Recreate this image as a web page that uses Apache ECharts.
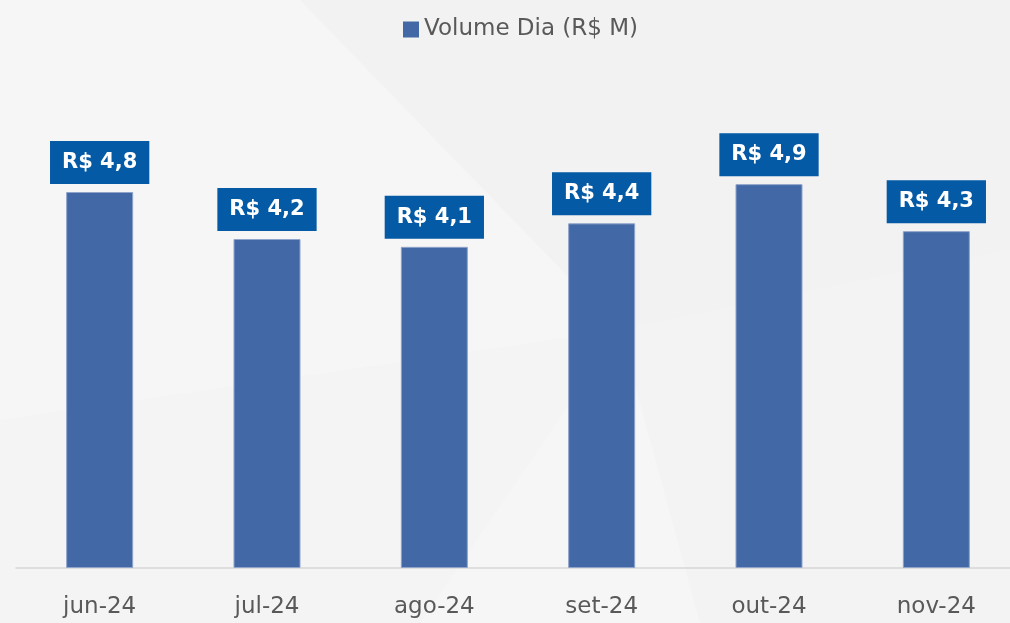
<!DOCTYPE html>
<html>
<head>
<meta charset="utf-8">
<script src="https://cdn.jsdelivr.net/npm/echarts@6/dist/echarts.min.js"></script>
<style>
  html, body { margin: 0; padding: 0; background: #f6f6f6; }
  #chart { width: 1010px; height: 623px; }
</style>
</head>
<body>
<div id="chart"></div>
<script>
// dados do gráfico
const months = ['jun-24', 'jul-24', 'ago-24', 'set-24', 'out-24', 'nov-24'];
const volumeDia = [4.8, 4.2, 4.1, 4.4, 4.9, 4.3];
const seriesName = 'Volume Dia (R$ M)';

const chart = echarts.init(document.getElementById('chart'));

const option = {
  backgroundColor: '#f6f6f6',
  // fundo decorativo com polígonos bem suaves
  graphic: [
    { type: 'polygon', z: -10, shape: { points: [[300, 0], [1010, 0], [1010, 250], [620, 330]] }, style: { fill: '#f2f2f2' } },
    { type: 'polygon', z: -10, shape: { points: [[620, 330], [1010, 250], [1010, 623], [700, 623]] }, style: { fill: '#f3f3f3' } },
    { type: 'polygon', z: -10, shape: { points: [[0, 420], [620, 330], [420, 623], [0, 623]] }, style: { fill: '#f4f4f4' } }
  ],
  legend: {
    data: [seriesName],
    left: 398,
    top: 13,
    icon: 'rect',
    itemWidth: 16,
    itemHeight: 16,
    itemGap: 8,
    itemStyle: { borderWidth: 0 },
    textStyle: {
      color: '#595959',
      fontSize: 23,
      fontFamily: 'DejaVu Sans'
    }
  },
  grid: {
    left: 16,
    right: -10,
    top: 98,
    bottom: 55,
    outerBoundsMode: 'none'
  },
  xAxis: {
    type: 'category',
    data: months,
    axisLine: { lineStyle: { color: '#d6d6d6', width: 1.5 } },
    axisTick: { show: false },
    axisLabel: {
      color: '#595959',
      fontSize: 23,
      fontFamily: 'DejaVu Sans',
      margin: 28
    }
  },
  yAxis: {
    type: 'value',
    min: 0,
    max: 6,
    show: false,
    splitLine: { show: false }
  },
  series: [{
    name: seriesName,
    type: 'bar',
    data: volumeDia,
    barWidth: 67,
    itemStyle: {
      color: '#4268a5',
      borderColor: '#8fa3cb',
      borderWidth: 1
    },
    label: {
      show: true,
      position: 'top',
      distance: 8,
      formatter: p => 'R$ ' + p.value.toFixed(1).replace('.', ','),
      color: '#ffffff',
      fontSize: 21,
      fontWeight: 'bold',
      fontFamily: 'DejaVu Sans',
      backgroundColor: '#055aa5',
      padding: [11, 12, 11, 12]
    }
  }]
};

chart.setOption(option);
</script>
</body>
</html>
